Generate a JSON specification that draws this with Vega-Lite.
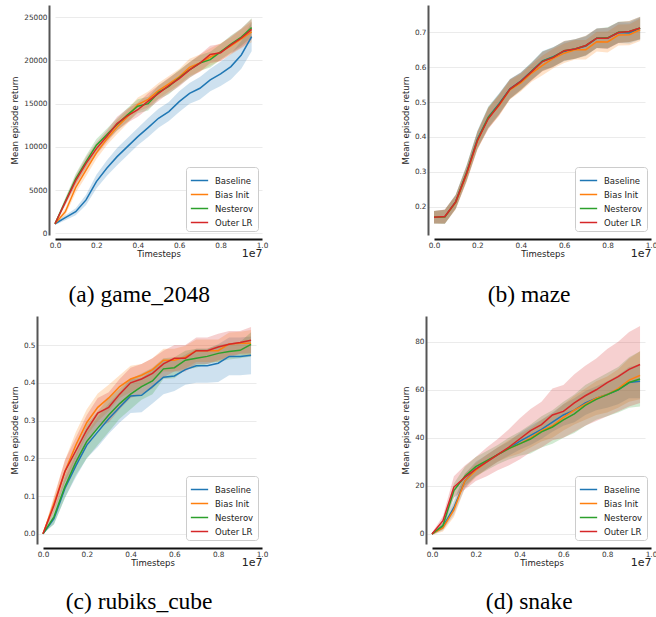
{
"$schema":"https://vega.github.io/schema/vega-lite/v6.json",
"padding":{"left":10,"top":5,"right":0,"bottom":0},
"columns":2,
"align":"none",
"spacing":{"row":9,"column":133},
"datasets":{
"g":[
{"m":"Baseline","t":0,"y":1100,"lo":950,"hi":1250},{"m":"Baseline","t":0.05,"y":1800,"lo":1500,"hi":2100},{"m":"Baseline","t":0.1,"y":2500,"lo":2100,"hi":2900},{"m":"Baseline","t":0.15,"y":3860,"lo":3260,"hi":4460},{"m":"Baseline","t":0.2,"y":5980,"lo":5180,"hi":6780},{"m":"Baseline","t":0.25,"y":7520,"lo":6620,"hi":8420},{"m":"Baseline","t":0.3,"y":8870,"lo":7870,"hi":9870},{"m":"Baseline","t":0.35,"y":10030,"lo":9030,"hi":11030},{"m":"Baseline","t":0.4,"y":11190,"lo":10190,"hi":12190},{"m":"Baseline","t":0.45,"y":12230,"lo":11130,"hi":13330},{"m":"Baseline","t":0.5,"y":13310,"lo":12210,"hi":14410},{"m":"Baseline","t":0.55,"y":14080,"lo":12980,"hi":15180},{"m":"Baseline","t":0.6,"y":15240,"lo":14040,"hi":16440},{"m":"Baseline","t":0.65,"y":16200,"lo":15000,"hi":17400},{"m":"Baseline","t":0.7,"y":16780,"lo":15480,"hi":18080},{"m":"Baseline","t":0.75,"y":17750,"lo":16450,"hi":19050},{"m":"Baseline","t":0.8,"y":18440,"lo":17040,"hi":19840},{"m":"Baseline","t":0.85,"y":19290,"lo":17790,"hi":20790},{"m":"Baseline","t":0.9,"y":20640,"lo":19040,"hi":22240},{"m":"Baseline","t":0.95,"y":22760,"lo":21060,"hi":24460},
{"m":"Bias Init","t":0,"y":1100,"lo":950,"hi":1250},{"m":"Bias Init","t":0.05,"y":2500,"lo":2100,"hi":2900},{"m":"Bias Init","t":0.1,"y":5300,"lo":4700,"hi":5900},{"m":"Bias Init","t":0.15,"y":7300,"lo":6600,"hi":8000},{"m":"Bias Init","t":0.2,"y":9300,"lo":8600,"hi":10000},{"m":"Bias Init","t":0.25,"y":10900,"lo":10200,"hi":11600},{"m":"Bias Init","t":0.3,"y":12300,"lo":11500,"hi":13100},{"m":"Bias Init","t":0.35,"y":13500,"lo":12700,"hi":14300},{"m":"Bias Init","t":0.4,"y":14900,"lo":14100,"hi":15700},{"m":"Bias Init","t":0.45,"y":15500,"lo":14600,"hi":16400},{"m":"Bias Init","t":0.5,"y":16500,"lo":15600,"hi":17400},{"m":"Bias Init","t":0.55,"y":17300,"lo":16400,"hi":18200},{"m":"Bias Init","t":0.6,"y":18100,"lo":17200,"hi":19000},{"m":"Bias Init","t":0.65,"y":19200,"lo":18200,"hi":20200},{"m":"Bias Init","t":0.7,"y":19700,"lo":18700,"hi":20700},{"m":"Bias Init","t":0.75,"y":20400,"lo":19400,"hi":21400},{"m":"Bias Init","t":0.8,"y":21000,"lo":20000,"hi":22000},{"m":"Bias Init","t":0.85,"y":21700,"lo":20700,"hi":22700},{"m":"Bias Init","t":0.9,"y":22500,"lo":21400,"hi":23600},{"m":"Bias Init","t":0.95,"y":23300,"lo":22100,"hi":24500},
{"m":"Nesterov","t":0,"y":1100,"lo":950,"hi":1250},{"m":"Nesterov","t":0.05,"y":3700,"lo":3300,"hi":4100},{"m":"Nesterov","t":0.1,"y":6300,"lo":5700,"hi":6900},{"m":"Nesterov","t":0.15,"y":8300,"lo":7600,"hi":9000},{"m":"Nesterov","t":0.2,"y":10200,"lo":9500,"hi":10900},{"m":"Nesterov","t":0.25,"y":11400,"lo":10700,"hi":12100},{"m":"Nesterov","t":0.3,"y":12600,"lo":11900,"hi":13300},{"m":"Nesterov","t":0.35,"y":13700,"lo":12900,"hi":14500},{"m":"Nesterov","t":0.4,"y":14700,"lo":13900,"hi":15500},{"m":"Nesterov","t":0.45,"y":15000,"lo":14200,"hi":15800},{"m":"Nesterov","t":0.5,"y":16300,"lo":15500,"hi":17100},{"m":"Nesterov","t":0.55,"y":17000,"lo":16100,"hi":17900},{"m":"Nesterov","t":0.6,"y":18000,"lo":17100,"hi":18900},{"m":"Nesterov","t":0.65,"y":18900,"lo":18000,"hi":19800},{"m":"Nesterov","t":0.7,"y":19700,"lo":18800,"hi":20600},{"m":"Nesterov","t":0.75,"y":20100,"lo":19200,"hi":21000},{"m":"Nesterov","t":0.8,"y":21000,"lo":20100,"hi":21900},{"m":"Nesterov","t":0.85,"y":21900,"lo":20900,"hi":22900},{"m":"Nesterov","t":0.9,"y":22700,"lo":21700,"hi":23700},{"m":"Nesterov","t":0.95,"y":23800,"lo":22700,"hi":24900},
{"m":"Outer LR","t":0,"y":1100,"lo":950,"hi":1250},{"m":"Outer LR","t":0.05,"y":3600,"lo":3200,"hi":4000},{"m":"Outer LR","t":0.1,"y":6100,"lo":5500,"hi":6700},{"m":"Outer LR","t":0.15,"y":8100,"lo":7400,"hi":8800},{"m":"Outer LR","t":0.2,"y":9800,"lo":9100,"hi":10500},{"m":"Outer LR","t":0.25,"y":11200,"lo":10500,"hi":11900},{"m":"Outer LR","t":0.3,"y":12700,"lo":11900,"hi":13500},{"m":"Outer LR","t":0.35,"y":13600,"lo":12800,"hi":14400},{"m":"Outer LR","t":0.4,"y":14300,"lo":13500,"hi":15100},{"m":"Outer LR","t":0.45,"y":15300,"lo":14400,"hi":16200},{"m":"Outer LR","t":0.5,"y":16200,"lo":15300,"hi":17100},{"m":"Outer LR","t":0.55,"y":17100,"lo":16200,"hi":18000},{"m":"Outer LR","t":0.6,"y":17900,"lo":17000,"hi":18800},{"m":"Outer LR","t":0.65,"y":18900,"lo":18000,"hi":19800},{"m":"Outer LR","t":0.7,"y":19700,"lo":18700,"hi":20700},{"m":"Outer LR","t":0.75,"y":20700,"lo":19700,"hi":21700},{"m":"Outer LR","t":0.8,"y":20900,"lo":19900,"hi":21900},{"m":"Outer LR","t":0.85,"y":21800,"lo":20800,"hi":22800},{"m":"Outer LR","t":0.9,"y":22600,"lo":21500,"hi":23700},{"m":"Outer LR","t":0.95,"y":23600,"lo":22400,"hi":24800}
],
"mz":[
{"m":"Baseline","t":0,"y":0.170,"lo":0.152,"hi":0.188},{"m":"Baseline","t":0.05,"y":0.171,"lo":0.151,"hi":0.191},{"m":"Baseline","t":0.1,"y":0.214,"lo":0.194,"hi":0.234},{"m":"Baseline","t":0.15,"y":0.296,"lo":0.274,"hi":0.318},{"m":"Baseline","t":0.2,"y":0.393,"lo":0.368,"hi":0.418},{"m":"Baseline","t":0.25,"y":0.457,"lo":0.427,"hi":0.487},{"m":"Baseline","t":0.3,"y":0.495,"lo":0.465,"hi":0.525},{"m":"Baseline","t":0.35,"y":0.538,"lo":0.510,"hi":0.566},{"m":"Baseline","t":0.4,"y":0.560,"lo":0.535,"hi":0.585},{"m":"Baseline","t":0.45,"y":0.589,"lo":0.564,"hi":0.614},{"m":"Baseline","t":0.5,"y":0.618,"lo":0.590,"hi":0.646},{"m":"Baseline","t":0.55,"y":0.630,"lo":0.602,"hi":0.658},{"m":"Baseline","t":0.6,"y":0.645,"lo":0.617,"hi":0.673},{"m":"Baseline","t":0.65,"y":0.652,"lo":0.624,"hi":0.680},{"m":"Baseline","t":0.7,"y":0.660,"lo":0.632,"hi":0.688},{"m":"Baseline","t":0.75,"y":0.683,"lo":0.655,"hi":0.711},{"m":"Baseline","t":0.8,"y":0.683,"lo":0.653,"hi":0.713},{"m":"Baseline","t":0.85,"y":0.699,"lo":0.669,"hi":0.729},{"m":"Baseline","t":0.9,"y":0.698,"lo":0.668,"hi":0.728},{"m":"Baseline","t":0.95,"y":0.711,"lo":0.679,"hi":0.743},
{"m":"Bias Init","t":0,"y":0.170,"lo":0.152,"hi":0.188},{"m":"Bias Init","t":0.05,"y":0.171,"lo":0.151,"hi":0.191},{"m":"Bias Init","t":0.1,"y":0.212,"lo":0.192,"hi":0.232},{"m":"Bias Init","t":0.15,"y":0.292,"lo":0.270,"hi":0.314},{"m":"Bias Init","t":0.2,"y":0.388,"lo":0.363,"hi":0.413},{"m":"Bias Init","t":0.25,"y":0.455,"lo":0.425,"hi":0.485},{"m":"Bias Init","t":0.3,"y":0.490,"lo":0.460,"hi":0.520},{"m":"Bias Init","t":0.35,"y":0.535,"lo":0.507,"hi":0.563},{"m":"Bias Init","t":0.4,"y":0.555,"lo":0.530,"hi":0.580},{"m":"Bias Init","t":0.45,"y":0.583,"lo":0.558,"hi":0.608},{"m":"Bias Init","t":0.5,"y":0.605,"lo":0.577,"hi":0.633},{"m":"Bias Init","t":0.55,"y":0.625,"lo":0.597,"hi":0.653},{"m":"Bias Init","t":0.6,"y":0.640,"lo":0.612,"hi":0.668},{"m":"Bias Init","t":0.65,"y":0.650,"lo":0.622,"hi":0.678},{"m":"Bias Init","t":0.7,"y":0.650,"lo":0.622,"hi":0.678},{"m":"Bias Init","t":0.75,"y":0.673,"lo":0.645,"hi":0.701},{"m":"Bias Init","t":0.8,"y":0.672,"lo":0.642,"hi":0.702},{"m":"Bias Init","t":0.85,"y":0.692,"lo":0.662,"hi":0.722},{"m":"Bias Init","t":0.9,"y":0.693,"lo":0.663,"hi":0.723},{"m":"Bias Init","t":0.95,"y":0.707,"lo":0.675,"hi":0.739},
{"m":"Nesterov","t":0,"y":0.170,"lo":0.152,"hi":0.188},{"m":"Nesterov","t":0.05,"y":0.171,"lo":0.151,"hi":0.191},{"m":"Nesterov","t":0.1,"y":0.214,"lo":0.194,"hi":0.234},{"m":"Nesterov","t":0.15,"y":0.297,"lo":0.275,"hi":0.319},{"m":"Nesterov","t":0.2,"y":0.391,"lo":0.366,"hi":0.416},{"m":"Nesterov","t":0.25,"y":0.455,"lo":0.425,"hi":0.485},{"m":"Nesterov","t":0.3,"y":0.494,"lo":0.464,"hi":0.524},{"m":"Nesterov","t":0.35,"y":0.537,"lo":0.509,"hi":0.565},{"m":"Nesterov","t":0.4,"y":0.559,"lo":0.534,"hi":0.584},{"m":"Nesterov","t":0.45,"y":0.588,"lo":0.563,"hi":0.613},{"m":"Nesterov","t":0.5,"y":0.617,"lo":0.589,"hi":0.645},{"m":"Nesterov","t":0.55,"y":0.629,"lo":0.601,"hi":0.657},{"m":"Nesterov","t":0.6,"y":0.647,"lo":0.619,"hi":0.675},{"m":"Nesterov","t":0.65,"y":0.652,"lo":0.624,"hi":0.680},{"m":"Nesterov","t":0.7,"y":0.662,"lo":0.634,"hi":0.690},{"m":"Nesterov","t":0.75,"y":0.683,"lo":0.655,"hi":0.711},{"m":"Nesterov","t":0.8,"y":0.684,"lo":0.654,"hi":0.714},{"m":"Nesterov","t":0.85,"y":0.700,"lo":0.670,"hi":0.730},{"m":"Nesterov","t":0.9,"y":0.702,"lo":0.672,"hi":0.732},{"m":"Nesterov","t":0.95,"y":0.712,"lo":0.680,"hi":0.744},
{"m":"Outer LR","t":0,"y":0.170,"lo":0.152,"hi":0.188},{"m":"Outer LR","t":0.05,"y":0.172,"lo":0.152,"hi":0.192},{"m":"Outer LR","t":0.1,"y":0.214,"lo":0.194,"hi":0.234},{"m":"Outer LR","t":0.15,"y":0.295,"lo":0.273,"hi":0.317},{"m":"Outer LR","t":0.2,"y":0.390,"lo":0.365,"hi":0.415},{"m":"Outer LR","t":0.25,"y":0.452,"lo":0.422,"hi":0.482},{"m":"Outer LR","t":0.3,"y":0.492,"lo":0.462,"hi":0.522},{"m":"Outer LR","t":0.35,"y":0.537,"lo":0.509,"hi":0.565},{"m":"Outer LR","t":0.4,"y":0.559,"lo":0.534,"hi":0.584},{"m":"Outer LR","t":0.45,"y":0.587,"lo":0.562,"hi":0.612},{"m":"Outer LR","t":0.5,"y":0.616,"lo":0.588,"hi":0.644},{"m":"Outer LR","t":0.55,"y":0.628,"lo":0.600,"hi":0.656},{"m":"Outer LR","t":0.6,"y":0.647,"lo":0.619,"hi":0.675},{"m":"Outer LR","t":0.65,"y":0.652,"lo":0.624,"hi":0.680},{"m":"Outer LR","t":0.7,"y":0.662,"lo":0.634,"hi":0.690},{"m":"Outer LR","t":0.75,"y":0.683,"lo":0.655,"hi":0.711},{"m":"Outer LR","t":0.8,"y":0.683,"lo":0.653,"hi":0.713},{"m":"Outer LR","t":0.85,"y":0.699,"lo":0.669,"hi":0.729},{"m":"Outer LR","t":0.9,"y":0.702,"lo":0.672,"hi":0.732},{"m":"Outer LR","t":0.95,"y":0.712,"lo":0.680,"hi":0.744}
],
"r":[
{"m":"Baseline","t":0,"y":0,"lo":0,"hi":0},{"m":"Baseline","t":0.05,"y":0.04,"lo":0.025,"hi":0.055},{"m":"Baseline","t":0.1,"y":0.12,"lo":0.095,"hi":0.145},{"m":"Baseline","t":0.15,"y":0.18,"lo":0.15,"hi":0.21},{"m":"Baseline","t":0.2,"y":0.235,"lo":0.2,"hi":0.27},{"m":"Baseline","t":0.25,"y":0.27,"lo":0.23,"hi":0.31},{"m":"Baseline","t":0.3,"y":0.305,"lo":0.265,"hi":0.345},{"m":"Baseline","t":0.35,"y":0.335,"lo":0.295,"hi":0.375},{"m":"Baseline","t":0.4,"y":0.365,"lo":0.32,"hi":0.41},{"m":"Baseline","t":0.45,"y":0.367,"lo":0.322,"hi":0.412},{"m":"Baseline","t":0.5,"y":0.39,"lo":0.345,"hi":0.435},{"m":"Baseline","t":0.55,"y":0.415,"lo":0.37,"hi":0.46},{"m":"Baseline","t":0.6,"y":0.418,"lo":0.378,"hi":0.458},{"m":"Baseline","t":0.65,"y":0.435,"lo":0.395,"hi":0.475},{"m":"Baseline","t":0.7,"y":0.445,"lo":0.4,"hi":0.49},{"m":"Baseline","t":0.75,"y":0.445,"lo":0.4,"hi":0.49},{"m":"Baseline","t":0.8,"y":0.452,"lo":0.402,"hi":0.502},{"m":"Baseline","t":0.85,"y":0.47,"lo":0.42,"hi":0.52},{"m":"Baseline","t":0.9,"y":0.47,"lo":0.42,"hi":0.52},{"m":"Baseline","t":0.95,"y":0.473,"lo":0.423,"hi":0.523},
{"m":"Bias Init","t":0,"y":0,"lo":0,"hi":0},{"m":"Bias Init","t":0.05,"y":0.08,"lo":0.06,"hi":0.1},{"m":"Bias Init","t":0.1,"y":0.165,"lo":0.135,"hi":0.195},{"m":"Bias Init","t":0.15,"y":0.235,"lo":0.2,"hi":0.27},{"m":"Bias Init","t":0.2,"y":0.295,"lo":0.26,"hi":0.33},{"m":"Bias Init","t":0.25,"y":0.335,"lo":0.298,"hi":0.372},{"m":"Bias Init","t":0.3,"y":0.36,"lo":0.325,"hi":0.395},{"m":"Bias Init","t":0.35,"y":0.39,"lo":0.36,"hi":0.42},{"m":"Bias Init","t":0.4,"y":0.41,"lo":0.375,"hi":0.445},{"m":"Bias Init","t":0.45,"y":0.42,"lo":0.39,"hi":0.45},{"m":"Bias Init","t":0.5,"y":0.435,"lo":0.405,"hi":0.465},{"m":"Bias Init","t":0.55,"y":0.46,"lo":0.43,"hi":0.49},{"m":"Bias Init","t":0.6,"y":0.46,"lo":0.43,"hi":0.49},{"m":"Bias Init","t":0.65,"y":0.468,"lo":0.438,"hi":0.498},{"m":"Bias Init","t":0.7,"y":0.485,"lo":0.455,"hi":0.515},{"m":"Bias Init","t":0.75,"y":0.485,"lo":0.455,"hi":0.515},{"m":"Bias Init","t":0.8,"y":0.485,"lo":0.455,"hi":0.515},{"m":"Bias Init","t":0.85,"y":0.503,"lo":0.473,"hi":0.533},{"m":"Bias Init","t":0.9,"y":0.505,"lo":0.475,"hi":0.535},{"m":"Bias Init","t":0.95,"y":0.505,"lo":0.47,"hi":0.54},
{"m":"Nesterov","t":0,"y":0,"lo":0,"hi":0},{"m":"Nesterov","t":0.05,"y":0.045,"lo":0.025,"hi":0.065},{"m":"Nesterov","t":0.1,"y":0.125,"lo":0.095,"hi":0.155},{"m":"Nesterov","t":0.15,"y":0.19,"lo":0.155,"hi":0.225},{"m":"Nesterov","t":0.2,"y":0.245,"lo":0.2,"hi":0.29},{"m":"Nesterov","t":0.25,"y":0.28,"lo":0.235,"hi":0.325},{"m":"Nesterov","t":0.3,"y":0.315,"lo":0.27,"hi":0.36},{"m":"Nesterov","t":0.35,"y":0.345,"lo":0.305,"hi":0.385},{"m":"Nesterov","t":0.4,"y":0.37,"lo":0.33,"hi":0.41},{"m":"Nesterov","t":0.45,"y":0.39,"lo":0.355,"hi":0.425},{"m":"Nesterov","t":0.5,"y":0.405,"lo":0.37,"hi":0.44},{"m":"Nesterov","t":0.55,"y":0.437,"lo":0.41,"hi":0.465},{"m":"Nesterov","t":0.6,"y":0.44,"lo":0.412,"hi":0.468},{"m":"Nesterov","t":0.65,"y":0.46,"lo":0.435,"hi":0.485},{"m":"Nesterov","t":0.7,"y":0.465,"lo":0.44,"hi":0.49},{"m":"Nesterov","t":0.75,"y":0.47,"lo":0.45,"hi":0.49},{"m":"Nesterov","t":0.8,"y":0.478,"lo":0.456,"hi":0.5},{"m":"Nesterov","t":0.85,"y":0.483,"lo":0.462,"hi":0.505},{"m":"Nesterov","t":0.9,"y":0.486,"lo":0.465,"hi":0.508},{"m":"Nesterov","t":0.95,"y":0.502,"lo":0.47,"hi":0.534},
{"m":"Outer LR","t":0,"y":0,"lo":0,"hi":0},{"m":"Outer LR","t":0.05,"y":0.075,"lo":0.055,"hi":0.095},{"m":"Outer LR","t":0.1,"y":0.165,"lo":0.135,"hi":0.195},{"m":"Outer LR","t":0.15,"y":0.22,"lo":0.185,"hi":0.255},{"m":"Outer LR","t":0.2,"y":0.275,"lo":0.235,"hi":0.315},{"m":"Outer LR","t":0.25,"y":0.32,"lo":0.28,"hi":0.36},{"m":"Outer LR","t":0.3,"y":0.335,"lo":0.295,"hi":0.375},{"m":"Outer LR","t":0.35,"y":0.37,"lo":0.33,"hi":0.41},{"m":"Outer LR","t":0.4,"y":0.4,"lo":0.36,"hi":0.44},{"m":"Outer LR","t":0.45,"y":0.41,"lo":0.37,"hi":0.45},{"m":"Outer LR","t":0.5,"y":0.425,"lo":0.385,"hi":0.465},{"m":"Outer LR","t":0.55,"y":0.45,"lo":0.415,"hi":0.485},{"m":"Outer LR","t":0.6,"y":0.465,"lo":0.43,"hi":0.5},{"m":"Outer LR","t":0.65,"y":0.465,"lo":0.43,"hi":0.5},{"m":"Outer LR","t":0.7,"y":0.485,"lo":0.45,"hi":0.52},{"m":"Outer LR","t":0.75,"y":0.485,"lo":0.45,"hi":0.52},{"m":"Outer LR","t":0.8,"y":0.495,"lo":0.46,"hi":0.53},{"m":"Outer LR","t":0.85,"y":0.502,"lo":0.467,"hi":0.537},{"m":"Outer LR","t":0.9,"y":0.507,"lo":0.477,"hi":0.537},{"m":"Outer LR","t":0.95,"y":0.513,"lo":0.478,"hi":0.548}
],
"s":[
{"m":"Baseline","t":0,"y":0,"lo":-0.5,"hi":0.5},{"m":"Baseline","t":0.05,"y":3,"lo":1.5,"hi":4.5},{"m":"Baseline","t":0.1,"y":11,"lo":8,"hi":14},{"m":"Baseline","t":0.15,"y":22,"lo":19,"hi":25},{"m":"Baseline","t":0.2,"y":27,"lo":24,"hi":30},{"m":"Baseline","t":0.25,"y":30,"lo":27,"hi":33},{"m":"Baseline","t":0.3,"y":33,"lo":30,"hi":36},{"m":"Baseline","t":0.35,"y":35.5,"lo":32.5,"hi":38.5},{"m":"Baseline","t":0.4,"y":38.5,"lo":35,"hi":42},{"m":"Baseline","t":0.45,"y":41,"lo":37,"hi":45},{"m":"Baseline","t":0.5,"y":43.5,"lo":39.5,"hi":47.5},{"m":"Baseline","t":0.55,"y":46.5,"lo":42.5,"hi":50.5},{"m":"Baseline","t":0.6,"y":49.5,"lo":45,"hi":54},{"m":"Baseline","t":0.65,"y":51.5,"lo":46.5,"hi":56.5},{"m":"Baseline","t":0.7,"y":54.5,"lo":49.5,"hi":59.5},{"m":"Baseline","t":0.75,"y":56.5,"lo":51.5,"hi":61.5},{"m":"Baseline","t":0.8,"y":58,"lo":52.5,"hi":63.5},{"m":"Baseline","t":0.85,"y":60,"lo":54,"hi":66},{"m":"Baseline","t":0.9,"y":63,"lo":56.5,"hi":69.5},{"m":"Baseline","t":0.95,"y":63.5,"lo":56.5,"hi":70.5},
{"m":"Bias Init","t":0,"y":0,"lo":-0.5,"hi":0.5},{"m":"Bias Init","t":0.05,"y":2.5,"lo":1,"hi":4},{"m":"Bias Init","t":0.1,"y":10,"lo":7,"hi":13},{"m":"Bias Init","t":0.15,"y":22,"lo":19,"hi":25},{"m":"Bias Init","t":0.2,"y":26.5,"lo":23.5,"hi":29.5},{"m":"Bias Init","t":0.25,"y":30,"lo":27,"hi":33},{"m":"Bias Init","t":0.3,"y":33,"lo":30,"hi":36},{"m":"Bias Init","t":0.35,"y":35.5,"lo":32,"hi":39},{"m":"Bias Init","t":0.4,"y":37.5,"lo":33.5,"hi":41.5},{"m":"Bias Init","t":0.45,"y":40,"lo":36,"hi":44},{"m":"Bias Init","t":0.5,"y":43,"lo":38.5,"hi":47.5},{"m":"Bias Init","t":0.55,"y":45,"lo":40,"hi":50},{"m":"Bias Init","t":0.6,"y":48.5,"lo":43,"hi":54},{"m":"Bias Init","t":0.65,"y":51.5,"lo":45.5,"hi":57.5},{"m":"Bias Init","t":0.7,"y":54,"lo":47.5,"hi":60.5},{"m":"Bias Init","t":0.75,"y":56.5,"lo":49.5,"hi":63.5},{"m":"Bias Init","t":0.8,"y":58,"lo":50.5,"hi":65.5},{"m":"Bias Init","t":0.85,"y":60.5,"lo":52.5,"hi":68.5},{"m":"Bias Init","t":0.9,"y":64,"lo":55,"hi":73},{"m":"Bias Init","t":0.95,"y":66,"lo":56,"hi":76},
{"m":"Nesterov","t":0,"y":0,"lo":-0.5,"hi":0.5},{"m":"Nesterov","t":0.05,"y":3.5,"lo":2,"hi":5},{"m":"Nesterov","t":0.1,"y":18,"lo":15,"hi":21},{"m":"Nesterov","t":0.15,"y":24,"lo":20,"hi":28},{"m":"Nesterov","t":0.2,"y":28,"lo":24,"hi":32},{"m":"Nesterov","t":0.25,"y":30.5,"lo":26.5,"hi":34.5},{"m":"Nesterov","t":0.3,"y":33,"lo":29,"hi":37},{"m":"Nesterov","t":0.35,"y":35.5,"lo":31,"hi":40},{"m":"Nesterov","t":0.4,"y":37.5,"lo":32.5,"hi":42.5},{"m":"Nesterov","t":0.45,"y":39.5,"lo":33.5,"hi":45.5},{"m":"Nesterov","t":0.5,"y":42.5,"lo":36,"hi":49},{"m":"Nesterov","t":0.55,"y":44.5,"lo":37.5,"hi":51.5},{"m":"Nesterov","t":0.6,"y":47.5,"lo":40,"hi":55},{"m":"Nesterov","t":0.65,"y":50,"lo":42,"hi":58},{"m":"Nesterov","t":0.7,"y":53.5,"lo":45,"hi":62},{"m":"Nesterov","t":0.75,"y":56,"lo":47.5,"hi":64.5},{"m":"Nesterov","t":0.8,"y":58,"lo":49,"hi":67},{"m":"Nesterov","t":0.85,"y":60,"lo":50.5,"hi":69.5},{"m":"Nesterov","t":0.9,"y":63,"lo":52.5,"hi":73.5},{"m":"Nesterov","t":0.95,"y":64.5,"lo":53,"hi":76},
{"m":"Outer LR","t":0,"y":0,"lo":-0.5,"hi":0.5},{"m":"Outer LR","t":0.05,"y":5.5,"lo":3.5,"hi":7.5},{"m":"Outer LR","t":0.1,"y":19.5,"lo":15,"hi":24},{"m":"Outer LR","t":0.15,"y":23.5,"lo":18.5,"hi":28.5},{"m":"Outer LR","t":0.2,"y":27,"lo":22,"hi":32},{"m":"Outer LR","t":0.25,"y":30,"lo":24,"hi":36},{"m":"Outer LR","t":0.3,"y":33,"lo":26.5,"hi":39.5},{"m":"Outer LR","t":0.35,"y":36,"lo":28.5,"hi":43.5},{"m":"Outer LR","t":0.4,"y":39.5,"lo":31,"hi":48},{"m":"Outer LR","t":0.45,"y":43,"lo":34,"hi":52},{"m":"Outer LR","t":0.5,"y":45.5,"lo":36,"hi":55},{"m":"Outer LR","t":0.55,"y":49.5,"lo":39,"hi":60.5},{"m":"Outer LR","t":0.6,"y":51,"lo":40,"hi":62},{"m":"Outer LR","t":0.65,"y":54.5,"lo":42.5,"hi":66.5},{"m":"Outer LR","t":0.7,"y":57.5,"lo":45,"hi":70},{"m":"Outer LR","t":0.75,"y":60,"lo":47,"hi":73},{"m":"Outer LR","t":0.8,"y":63,"lo":49,"hi":77},{"m":"Outer LR","t":0.85,"y":65.5,"lo":51,"hi":80},{"m":"Outer LR","t":0.9,"y":68.5,"lo":53,"hi":84},{"m":"Outer LR","t":0.95,"y":70.5,"lo":54.5,"hi":86.5}
]
},
"concat":[
{"width":219,"height":230,"title":{"text":"(a) game_2048"},"data":{"name":"g"},
 "resolve":{"axis":{"x":"independent"}},
 "layer":[
  {"mark":{"type":"area","opacity":0.22},
   "encoding":{
    "x":{"field":"t","type":"quantitative","scale":{"domain":[0,1],"range":[12,219],"nice":false,"zero":false},"axis":{"orient":"bottom","title":"1e7","titleAnchor":"end","titleAlign":"right","titleFontSize":11,"labels":false,"domain":false,"grid":false,"titlePadding":8}},
    "y":{"field":"lo","type":"quantitative","scale":{"domain":[-200,26420],"nice":false,"zero":false},"axis":{"offset":-6,"values":[0,5000,10000,15000,20000,25000],"format":"d","title":"Mean episode return"}},
    "y2":{"field":"hi"},
    "fill":{"field":"m","type":"nominal","scale":{"domain":["Outer LR","Nesterov","Bias Init","Baseline"],"range":["#d62728","#2ca02c","#ff7f0e","#1f77b4"]},"legend":null}}},
  {"mark":{"type":"line","strokeWidth":1.5},
   "encoding":{
    "x":{"field":"t","type":"quantitative","axis":{"orient":"bottom","values":[0,0.2,0.4,0.6,0.8,1.0],"format":".1f","title":"Timesteps"}},
    "y":{"field":"y","type":"quantitative","axis":{"offset":-6,"values":[0,5000,10000,15000,20000,25000],"format":"d","title":"Mean episode return"}},
    "stroke":{"field":"m","type":"nominal","scale":{"domain":["Baseline","Bias Init","Nesterov","Outer LR"],"range":["#1f77b4","#ff7f0e","#2ca02c","#d62728"]},"legend":{"title":null,"orient":"bottom-right"}}}}
 ]},
{"width":217,"height":230,"title":{"text":"(b) maze"},"data":{"name":"mz"},
 "resolve":{"axis":{"x":"independent"}},
 "layer":[
  {"mark":{"type":"area","opacity":0.22},
   "encoding":{
    "x":{"field":"t","type":"quantitative","scale":{"domain":[0,1],"nice":false,"zero":false},"axis":{"orient":"bottom","title":"1e7","titleAnchor":"end","titleAlign":"right","titleFontSize":11,"labels":false,"domain":false,"grid":false,"titlePadding":8}},
    "y":{"field":"lo","type":"quantitative","scale":{"domain":[0.119,0.778],"nice":false,"zero":false},"axis":{"values":[0.2,0.3,0.4,0.5,0.6,0.7],"format":".1f","title":"Mean episode return"}},
    "y2":{"field":"hi"},
    "fill":{"field":"m","type":"nominal","scale":{"domain":["Outer LR","Nesterov","Bias Init","Baseline"],"range":["#d62728","#2ca02c","#ff7f0e","#1f77b4"]},"legend":null}}},
  {"mark":{"type":"line","strokeWidth":1.5},
   "encoding":{
    "x":{"field":"t","type":"quantitative","axis":{"orient":"bottom","values":[0,0.2,0.4,0.6,0.8,1.0],"format":".1f","title":"Timesteps"}},
    "y":{"field":"y","type":"quantitative","axis":{"values":[0.2,0.3,0.4,0.5,0.6,0.7],"format":".1f","title":"Mean episode return"}},
    "stroke":{"field":"m","type":"nominal","scale":{"domain":["Baseline","Bias Init","Nesterov","Outer LR"],"range":["#1f77b4","#ff7f0e","#2ca02c","#d62728"]},"legend":{"title":null,"orient":"bottom-right"}}}}
 ]},
{"width":219,"height":228,"title":{"text":"(c) rubiks_cube","offset":23},"data":{"name":"r"},
 "resolve":{"axis":{"x":"independent"}},
 "layer":[
  {"mark":{"type":"area","opacity":0.22},
   "encoding":{
    "x":{"field":"t","type":"quantitative","scale":{"domain":[0,1],"nice":false,"zero":false},"axis":{"orient":"bottom","title":"1e7","titleAnchor":"end","titleAlign":"right","titleFontSize":11,"labels":false,"domain":false,"grid":false,"titlePadding":8}},
    "y":{"field":"lo","type":"quantitative","scale":{"domain":[-0.027,0.577],"nice":false,"zero":false},"axis":{"values":[0,0.1,0.2,0.3,0.4,0.5],"format":".1f","title":"Mean episode return"}},
    "y2":{"field":"hi"},
    "fill":{"field":"m","type":"nominal","scale":{"domain":["Outer LR","Nesterov","Bias Init","Baseline"],"range":["#d62728","#2ca02c","#ff7f0e","#1f77b4"]},"legend":null}}},
  {"mark":{"type":"line","strokeWidth":1.5},
   "encoding":{
    "x":{"field":"t","type":"quantitative","axis":{"orient":"bottom","values":[0,0.2,0.4,0.6,0.8,1.0],"format":".1f","title":"Timesteps"}},
    "y":{"field":"y","type":"quantitative","axis":{"values":[0,0.1,0.2,0.3,0.4,0.5],"format":".1f","title":"Mean episode return"}},
    "stroke":{"field":"m","type":"nominal","scale":{"domain":["Baseline","Bias Init","Nesterov","Outer LR"],"range":["#1f77b4","#ff7f0e","#2ca02c","#d62728"]},"legend":{"title":null,"orient":"bottom-right"}}}}
 ]},
{"width":219,"height":228,"title":{"text":"(d) snake","offset":23},"data":{"name":"s"},
 "resolve":{"axis":{"x":"independent"}},
 "layer":[
  {"mark":{"type":"area","opacity":0.22},
   "encoding":{
    "x":{"field":"t","type":"quantitative","scale":{"domain":[0,1],"nice":false,"zero":false},"axis":{"orient":"bottom","title":"1e7","titleAnchor":"end","titleAlign":"right","titleFontSize":11,"labels":false,"domain":false,"grid":false,"titlePadding":8}},
    "y":{"field":"lo","type":"quantitative","scale":{"domain":[-4.2,90.7],"nice":false,"zero":false},"axis":{"values":[0,20,40,60,80],"format":"d","title":"Mean episode return"}},
    "y2":{"field":"hi"},
    "fill":{"field":"m","type":"nominal","scale":{"domain":["Outer LR","Nesterov","Bias Init","Baseline"],"range":["#d62728","#2ca02c","#ff7f0e","#1f77b4"]},"legend":null}}},
  {"mark":{"type":"line","strokeWidth":1.5},
   "encoding":{
    "x":{"field":"t","type":"quantitative","axis":{"orient":"bottom","values":[0,0.2,0.4,0.6,0.8,1.0],"format":".1f","title":"Timesteps"}},
    "y":{"field":"y","type":"quantitative","axis":{"values":[0,20,40,60,80],"format":"d","title":"Mean episode return"}},
    "stroke":{"field":"m","type":"nominal","scale":{"domain":["Baseline","Bias Init","Nesterov","Outer LR"],"range":["#1f77b4","#ff7f0e","#2ca02c","#d62728"]},"legend":{"title":null,"orient":"bottom-right"}}}}
 ]}
],
"resolve":{"scale":{"fill":"independent","stroke":"independent"},"legend":{"stroke":"independent","fill":"independent"}},
"config":{
 "view":{"stroke":null},
 "font":"DejaVu Sans",
 "axis":{"labelFont":"DejaVu Sans","labelFontSize":7.3,"labelColor":"#333333","titleFont":"DejaVu Sans","titleFontSize":8.5,"titleFontWeight":"normal","titleColor":"#222222","gridColor":"#ebebeb","gridWidth":1,"ticks":false,"labelPadding":2,"labelFlush":false,"labelOverlap":false},
 "axisX":{"offset":4,"domainWidth":1.8,"domainColor":"#111111","titlePadding":1},
 "axisY":{"offset":6,"domainWidth":2,"domainColor":"#555555","titlePadding":4},
 "legend":{"offset":4,"padding":4,"strokeColor":"#cccccc","fillColor":"#ffffff","cornerRadius":3,"labelFont":"DejaVu Sans","labelFontSize":8.5,"labelColor":"#222222","symbolType":"stroke","symbolSize":300,"symbolStrokeWidth":1.5,"labelOffset":6,"rowPadding":0},
 "title":{"orient":"bottom","anchor":"middle","frame":"bounds","font":"Liberation Serif","fontSize":23.5,"fontWeight":"normal","color":"#000000","offset":25}
}
}
